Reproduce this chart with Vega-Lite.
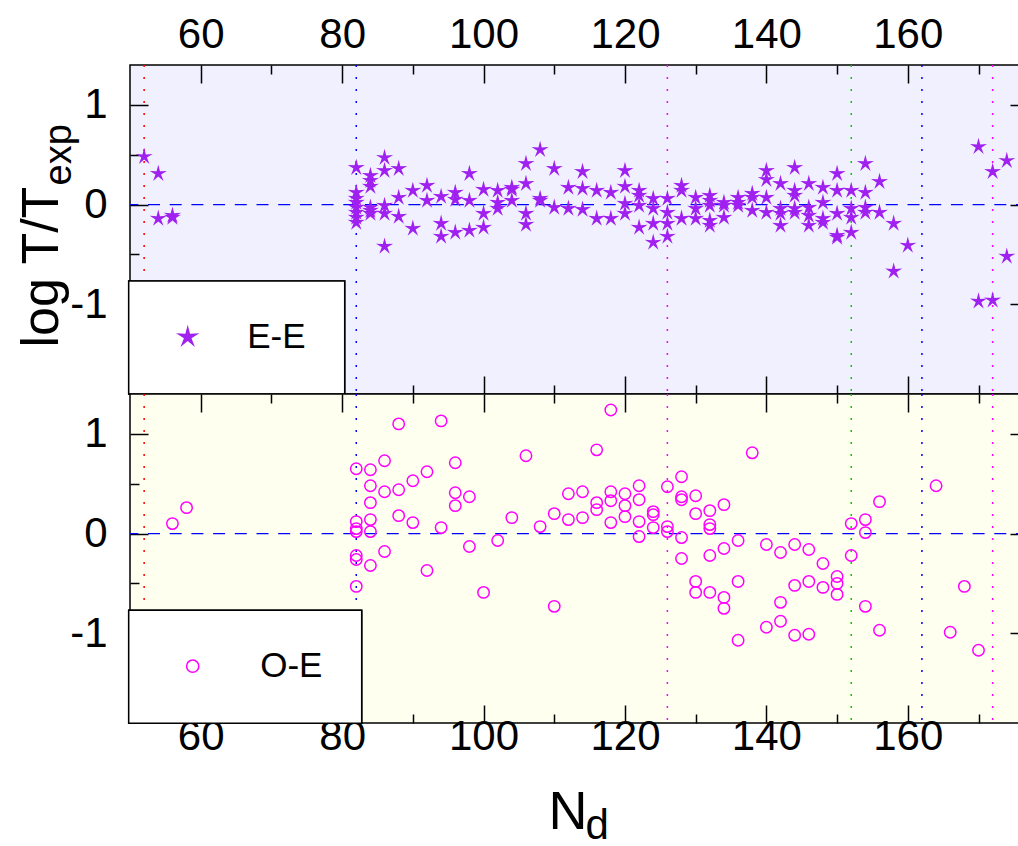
{
  "$schema": "https://vega.github.io/schema/vega-lite/v6.json",
  "padding": {"left": 14, "top": 3, "right": 0, "bottom": 0},
  "spacing": 0,
  "bounds": "flush",
  "config": {
    "font": "Liberation Sans",
    "axis": {"domain": false, "grid": false, "tickColor": "black", "tickWidth": 1.5, "labelFont": "Liberation Sans", "labelFontSize": 42, "labelColor": "black", "titleFont": "Liberation Sans", "titleFontWeight": "normal", "titleColor": "black", "labelFlush": false, "labelOverlap": false, "labelBound": false},
    "legend": {"strokeWidth": 1.5, "cornerRadius": 0}
  },
  "resolve": {"scale": {"shape": "independent", "color": "independent"}, "legend": {"shape": "independent", "color": "independent"}},
  "datasets": {
    "vlines": [{"N": 52}, {"N": 82}, {"N": 126}, {"N": 152}, {"N": 162}, {"N": 172}],
    "zero": [{"v": 0}],
    "ee": [
      {"N": 52, "v": 0.48, "type": "E-E"}, {"N": 54, "v": 0.31, "type": "E-E"}, {"N": 54, "v": -0.14, "type": "E-E"}, {"N": 56, "v": -0.11, "type": "E-E"}, {"N": 56, "v": -0.13, "type": "E-E"},
      {"N": 82, "v": 0.37, "type": "E-E"}, {"N": 82, "v": 0.12, "type": "E-E"}, {"N": 82, "v": 0.06, "type": "E-E"}, {"N": 82, "v": 0.02, "type": "E-E"}, {"N": 82, "v": -0.03, "type": "E-E"}, {"N": 82, "v": -0.08, "type": "E-E"}, {"N": 82, "v": -0.13, "type": "E-E"}, {"N": 82, "v": -0.18, "type": "E-E"},
      {"N": 84, "v": 0.29, "type": "E-E"}, {"N": 84, "v": 0.24, "type": "E-E"}, {"N": 84, "v": 0.18, "type": "E-E"}, {"N": 84, "v": -0.03, "type": "E-E"}, {"N": 84, "v": -0.06, "type": "E-E"}, {"N": 84, "v": -0.09, "type": "E-E"},
      {"N": 86, "v": 0.47, "type": "E-E"}, {"N": 86, "v": 0.34, "type": "E-E"}, {"N": 86, "v": -0.01, "type": "E-E"}, {"N": 86, "v": -0.09, "type": "E-E"}, {"N": 86, "v": -0.42, "type": "E-E"},
      {"N": 88, "v": 0.36, "type": "E-E"}, {"N": 88, "v": 0.07, "type": "E-E"}, {"N": 88, "v": -0.12, "type": "E-E"},
      {"N": 90, "v": 0.14, "type": "E-E"}, {"N": 90, "v": -0.24, "type": "E-E"},
      {"N": 92, "v": 0.19, "type": "E-E"}, {"N": 92, "v": 0.04, "type": "E-E"},
      {"N": 94, "v": 0.08, "type": "E-E"}, {"N": 94, "v": -0.19, "type": "E-E"}, {"N": 94, "v": -0.32, "type": "E-E"},
      {"N": 96, "v": 0.12, "type": "E-E"}, {"N": 96, "v": 0.05, "type": "E-E"}, {"N": 96, "v": -0.28, "type": "E-E"},
      {"N": 98, "v": 0.31, "type": "E-E"}, {"N": 98, "v": 0.04, "type": "E-E"}, {"N": 98, "v": -0.26, "type": "E-E"},
      {"N": 100, "v": 0.15, "type": "E-E"}, {"N": 100, "v": -0.09, "type": "E-E"}, {"N": 100, "v": -0.23, "type": "E-E"},
      {"N": 102, "v": 0.14, "type": "E-E"}, {"N": 102, "v": 0.02, "type": "E-E"}, {"N": 102, "v": -0.04, "type": "E-E"},
      {"N": 104, "v": 0.17, "type": "E-E"}, {"N": 104, "v": 0.15, "type": "E-E"}, {"N": 104, "v": 0.04, "type": "E-E"},
      {"N": 106, "v": 0.41, "type": "E-E"}, {"N": 106, "v": 0.21, "type": "E-E"}, {"N": 106, "v": -0.09, "type": "E-E"}, {"N": 106, "v": -0.2, "type": "E-E"},
      {"N": 108, "v": 0.55, "type": "E-E"}, {"N": 108, "v": 0.06, "type": "E-E"}, {"N": 108, "v": 0.04, "type": "E-E"},
      {"N": 110, "v": 0.36, "type": "E-E"}, {"N": 110, "v": -0.03, "type": "E-E"},
      {"N": 112, "v": 0.17, "type": "E-E"}, {"N": 112, "v": -0.04, "type": "E-E"},
      {"N": 114, "v": 0.33, "type": "E-E"}, {"N": 114, "v": 0.16, "type": "E-E"}, {"N": 114, "v": -0.05, "type": "E-E"},
      {"N": 116, "v": 0.14, "type": "E-E"}, {"N": 116, "v": -0.14, "type": "E-E"},
      {"N": 118, "v": 0.12, "type": "E-E"}, {"N": 118, "v": -0.14, "type": "E-E"},
      {"N": 120, "v": 0.34, "type": "E-E"}, {"N": 120, "v": 0.18, "type": "E-E"}, {"N": 120, "v": 0.01, "type": "E-E"}, {"N": 120, "v": -0.09, "type": "E-E"},
      {"N": 122, "v": 0.14, "type": "E-E"}, {"N": 122, "v": 0.09, "type": "E-E"}, {"N": 122, "v": -0.01, "type": "E-E"}, {"N": 122, "v": -0.23, "type": "E-E"},
      {"N": 124, "v": 0.06, "type": "E-E"}, {"N": 124, "v": -0.04, "type": "E-E"}, {"N": 124, "v": -0.19, "type": "E-E"}, {"N": 124, "v": -0.38, "type": "E-E"},
      {"N": 126, "v": 0.06, "type": "E-E"}, {"N": 126, "v": -0.08, "type": "E-E"}, {"N": 126, "v": -0.19, "type": "E-E"}, {"N": 126, "v": -0.32, "type": "E-E"},
      {"N": 128, "v": 0.19, "type": "E-E"}, {"N": 128, "v": 0.14, "type": "E-E"}, {"N": 128, "v": -0.14, "type": "E-E"},
      {"N": 130, "v": 0.07, "type": "E-E"}, {"N": 130, "v": -0.04, "type": "E-E"}, {"N": 130, "v": -0.14, "type": "E-E"},
      {"N": 132, "v": 0.09, "type": "E-E"}, {"N": 132, "v": 0.04, "type": "E-E"}, {"N": 132, "v": -0.01, "type": "E-E"}, {"N": 132, "v": -0.16, "type": "E-E"}, {"N": 132, "v": -0.21, "type": "E-E"},
      {"N": 134, "v": 0.02, "type": "E-E"}, {"N": 134, "v": -0.01, "type": "E-E"}, {"N": 134, "v": -0.13, "type": "E-E"},
      {"N": 136, "v": 0.07, "type": "E-E"}, {"N": 136, "v": 0.02, "type": "E-E"}, {"N": 136, "v": -0.01, "type": "E-E"},
      {"N": 138, "v": 0.11, "type": "E-E"}, {"N": 138, "v": 0.07, "type": "E-E"}, {"N": 138, "v": -0.06, "type": "E-E"},
      {"N": 140, "v": 0.34, "type": "E-E"}, {"N": 140, "v": 0.25, "type": "E-E"}, {"N": 140, "v": 0.07, "type": "E-E"}, {"N": 140, "v": -0.08, "type": "E-E"},
      {"N": 142, "v": 0.21, "type": "E-E"}, {"N": 142, "v": -0.04, "type": "E-E"}, {"N": 142, "v": -0.09, "type": "E-E"}, {"N": 142, "v": -0.21, "type": "E-E"},
      {"N": 144, "v": 0.37, "type": "E-E"}, {"N": 144, "v": 0.14, "type": "E-E"}, {"N": 144, "v": 0.09, "type": "E-E"}, {"N": 144, "v": -0.04, "type": "E-E"}, {"N": 144, "v": -0.08, "type": "E-E"},
      {"N": 146, "v": 0.21, "type": "E-E"}, {"N": 146, "v": -0.03, "type": "E-E"}, {"N": 146, "v": -0.11, "type": "E-E"}, {"N": 146, "v": -0.21, "type": "E-E"},
      {"N": 148, "v": 0.17, "type": "E-E"}, {"N": 148, "v": 0.02, "type": "E-E"}, {"N": 148, "v": -0.14, "type": "E-E"}, {"N": 148, "v": -0.18, "type": "E-E"},
      {"N": 150, "v": 0.31, "type": "E-E"}, {"N": 150, "v": 0.14, "type": "E-E"}, {"N": 150, "v": -0.09, "type": "E-E"}, {"N": 150, "v": -0.31, "type": "E-E"}, {"N": 150, "v": -0.33, "type": "E-E"},
      {"N": 152, "v": 0.14, "type": "E-E"}, {"N": 152, "v": -0.04, "type": "E-E"}, {"N": 152, "v": -0.13, "type": "E-E"}, {"N": 152, "v": -0.28, "type": "E-E"},
      {"N": 154, "v": 0.41, "type": "E-E"}, {"N": 154, "v": 0.12, "type": "E-E"}, {"N": 154, "v": -0.03, "type": "E-E"}, {"N": 154, "v": -0.08, "type": "E-E"},
      {"N": 156, "v": 0.23, "type": "E-E"}, {"N": 156, "v": -0.08, "type": "E-E"},
      {"N": 158, "v": -0.19, "type": "E-E"}, {"N": 158, "v": -0.67, "type": "E-E"},
      {"N": 160, "v": -0.41, "type": "E-E"},
      {"N": 170, "v": 0.58, "type": "E-E"}, {"N": 170, "v": -0.97, "type": "E-E"},
      {"N": 172, "v": 0.33, "type": "E-E"}, {"N": 172, "v": -0.96, "type": "E-E"},
      {"N": 174, "v": 0.44, "type": "E-E"}, {"N": 174, "v": -0.52, "type": "E-E"}
    ],
    "oe": [
      {"N": 56, "v": 0.10, "type": "O-E"}, {"N": 58, "v": 0.26, "type": "O-E"},
      {"N": 82, "v": 0.65, "type": "O-E"}, {"N": 82, "v": 0.12, "type": "O-E"}, {"N": 82, "v": 0.05, "type": "O-E"}, {"N": 82, "v": 0.02, "type": "O-E"}, {"N": 82, "v": -0.22, "type": "O-E"}, {"N": 82, "v": -0.26, "type": "O-E"}, {"N": 82, "v": -0.53, "type": "O-E"},
      {"N": 84, "v": 0.64, "type": "O-E"}, {"N": 84, "v": 0.48, "type": "O-E"}, {"N": 84, "v": 0.31, "type": "O-E"}, {"N": 84, "v": 0.14, "type": "O-E"}, {"N": 84, "v": 0.02, "type": "O-E"}, {"N": 84, "v": -0.32, "type": "O-E"},
      {"N": 86, "v": 0.73, "type": "O-E"}, {"N": 86, "v": 0.42, "type": "O-E"}, {"N": 86, "v": -0.18, "type": "O-E"},
      {"N": 88, "v": 1.10, "type": "O-E"}, {"N": 88, "v": 0.44, "type": "O-E"}, {"N": 88, "v": 0.18, "type": "O-E"},
      {"N": 90, "v": 0.53, "type": "O-E"}, {"N": 90, "v": 0.11, "type": "O-E"},
      {"N": 92, "v": 0.62, "type": "O-E"}, {"N": 92, "v": -0.37, "type": "O-E"},
      {"N": 94, "v": 1.13, "type": "O-E"}, {"N": 94, "v": 0.06, "type": "O-E"},
      {"N": 96, "v": 0.71, "type": "O-E"}, {"N": 96, "v": 0.41, "type": "O-E"}, {"N": 96, "v": 0.28, "type": "O-E"},
      {"N": 98, "v": 0.37, "type": "O-E"}, {"N": 98, "v": -0.13, "type": "O-E"},
      {"N": 100, "v": -0.59, "type": "O-E"},
      {"N": 102, "v": -0.07, "type": "O-E"},
      {"N": 104, "v": 0.16, "type": "O-E"},
      {"N": 106, "v": 0.78, "type": "O-E"},
      {"N": 108, "v": 0.07, "type": "O-E"},
      {"N": 110, "v": 0.20, "type": "O-E"}, {"N": 110, "v": -0.73, "type": "O-E"},
      {"N": 112, "v": 0.40, "type": "O-E"}, {"N": 112, "v": 0.14, "type": "O-E"},
      {"N": 114, "v": 0.42, "type": "O-E"}, {"N": 114, "v": 0.16, "type": "O-E"},
      {"N": 116, "v": 0.84, "type": "O-E"}, {"N": 116, "v": 0.31, "type": "O-E"}, {"N": 116, "v": 0.24, "type": "O-E"},
      {"N": 118, "v": 1.24, "type": "O-E"}, {"N": 118, "v": 0.42, "type": "O-E"}, {"N": 118, "v": 0.33, "type": "O-E"}, {"N": 118, "v": 0.11, "type": "O-E"},
      {"N": 120, "v": 0.40, "type": "O-E"}, {"N": 120, "v": 0.28, "type": "O-E"}, {"N": 120, "v": 0.17, "type": "O-E"},
      {"N": 122, "v": 0.48, "type": "O-E"}, {"N": 122, "v": 0.34, "type": "O-E"}, {"N": 122, "v": 0.12, "type": "O-E"}, {"N": 122, "v": -0.03, "type": "O-E"},
      {"N": 124, "v": 0.22, "type": "O-E"}, {"N": 124, "v": 0.19, "type": "O-E"}, {"N": 124, "v": 0.06, "type": "O-E"},
      {"N": 126, "v": 0.47, "type": "O-E"}, {"N": 126, "v": 0.07, "type": "O-E"}, {"N": 126, "v": 0.02, "type": "O-E"},
      {"N": 128, "v": 0.57, "type": "O-E"}, {"N": 128, "v": 0.37, "type": "O-E"}, {"N": 128, "v": 0.34, "type": "O-E"}, {"N": 128, "v": -0.04, "type": "O-E"}, {"N": 128, "v": -0.25, "type": "O-E"},
      {"N": 130, "v": 0.38, "type": "O-E"}, {"N": 130, "v": 0.20, "type": "O-E"}, {"N": 130, "v": -0.48, "type": "O-E"}, {"N": 130, "v": -0.59, "type": "O-E"},
      {"N": 132, "v": 0.23, "type": "O-E"}, {"N": 132, "v": 0.09, "type": "O-E"}, {"N": 132, "v": 0.05, "type": "O-E"}, {"N": 132, "v": -0.22, "type": "O-E"}, {"N": 132, "v": -0.59, "type": "O-E"},
      {"N": 134, "v": 0.29, "type": "O-E"}, {"N": 134, "v": -0.15, "type": "O-E"}, {"N": 134, "v": -0.64, "type": "O-E"}, {"N": 134, "v": -0.75, "type": "O-E"},
      {"N": 136, "v": -0.07, "type": "O-E"}, {"N": 136, "v": -0.48, "type": "O-E"}, {"N": 136, "v": -1.07, "type": "O-E"},
      {"N": 138, "v": 0.81, "type": "O-E"},
      {"N": 140, "v": -0.11, "type": "O-E"}, {"N": 140, "v": -0.94, "type": "O-E"},
      {"N": 142, "v": -0.19, "type": "O-E"}, {"N": 142, "v": -0.69, "type": "O-E"}, {"N": 142, "v": -0.88, "type": "O-E"},
      {"N": 144, "v": -0.11, "type": "O-E"}, {"N": 144, "v": -0.52, "type": "O-E"}, {"N": 144, "v": -1.02, "type": "O-E"},
      {"N": 146, "v": -0.16, "type": "O-E"}, {"N": 146, "v": -0.48, "type": "O-E"}, {"N": 146, "v": -1.01, "type": "O-E"},
      {"N": 148, "v": -0.30, "type": "O-E"}, {"N": 148, "v": -0.54, "type": "O-E"},
      {"N": 150, "v": -0.43, "type": "O-E"}, {"N": 150, "v": -0.50, "type": "O-E"}, {"N": 150, "v": -0.61, "type": "O-E"},
      {"N": 152, "v": 0.10, "type": "O-E"}, {"N": 152, "v": -0.22, "type": "O-E"},
      {"N": 154, "v": 0.14, "type": "O-E"}, {"N": 154, "v": 0.01, "type": "O-E"}, {"N": 154, "v": -0.73, "type": "O-E"},
      {"N": 156, "v": 0.32, "type": "O-E"}, {"N": 156, "v": -0.97, "type": "O-E"},
      {"N": 164, "v": 0.48, "type": "O-E"},
      {"N": 166, "v": -0.99, "type": "O-E"},
      {"N": 168, "v": -0.53, "type": "O-E"},
      {"N": 170, "v": -1.17, "type": "O-E"}
    ]
  },
  "vconcat": [
    {
      "width": 898,
      "height": 329,
      "view": {"fill": "#f0f0ff", "stroke": "black", "strokeWidth": 1.5},
      "layer": [
        {
          "data": {"name": "vlines"},
          "mark": {"type": "rule", "strokeDash": [2, 10], "strokeWidth": 1.5},
          "encoding": {
            "x": {"field": "N", "type": "quantitative", "scale": {"domain": [50, 177], "nice": false, "zero": false},
              "axis": {"orient": "top", "values": [60, 70, 80, 90, 100, 110, 120, 130, 140, 150, 160, 170], "labelExpr": "datum.value % 20 === 0 ? '' + datum.value : ''", "tickSize": {"condition": {"test": "datum.value % 20 === 0", "value": -18}, "value": -9}, "labelPadding": 36, "labelBaseline": "alphabetic", "title": null}},
            "color": {"field": "N", "type": "nominal", "scale": {"domain": [52, 82, 126, 152, 162, 172], "range": ["#ff0000", "#0000ff", "#ff00ff", "#00cc00", "#0000ff", "#ff00ff"]}, "legend": null}
          }
        },
        {
          "data": {"name": "zero"},
          "mark": {"type": "rule", "color": "#0000ff", "strokeDash": [12, 9.7], "strokeWidth": 1.2},
          "encoding": {
            "y": {"field": "v", "type": "quantitative", "scale": {"domain": [-1.9, 1.4], "nice": false, "zero": false},
              "axis": {"orient": "right", "values": [-1.5, -1, -0.5, 0, 0.5, 1], "labels": false, "tickSize": {"condition": {"test": "datum.value % 1 === 0", "value": -18}, "value": -9}, "title": "exp", "titleFontSize": 38, "titleAngle": -90, "titleAlign": "left", "titleBaseline": "alphabetic", "titleX": -958, "titleY": 120}}
          }
        },
        {
          "data": {"name": "ee"},
          "mark": {"type": "point", "filled": true, "size": 320, "opacity": 1},
          "encoding": {
            "x": {"field": "N", "type": "quantitative", "scale": {"domain": [50, 177], "nice": false, "zero": false},
              "axis": {"orient": "bottom", "values": [60, 70, 80, 90, 100, 110, 120, 130, 140, 150, 160, 170], "labels": false, "tickSize": {"condition": {"test": "datum.value % 20 === 0", "value": -18}, "value": -9}, "title": null}},
            "y": {"field": "v", "type": "quantitative", "scale": {"domain": [-1.9, 1.4], "nice": false, "zero": false},
              "axis": {"orient": "left", "values": [-1.5, -1, -0.5, 0, 0.5, 1], "labelExpr": "datum.value % 1 === 0 ? '' + datum.value : ''", "tickSize": {"condition": {"test": "datum.value % 1 === 0", "value": -18}, "value": -9}, "labelPadding": 41, "title": "log T/T", "titleFontSize": 52, "titleAngle": -90, "titleAlign": "left", "titleBaseline": "alphabetic", "titleX": -73, "titleY": 282}},
            "shape": {"field": "type", "type": "nominal", "scale": {"domain": ["E-E"], "range": ["M0,-1L0.19,-0.26L0.951,-0.309L0.31,0.1L0.588,0.809L0,0.32L-0.588,0.809L-0.31,0.1L-0.951,-0.309L-0.19,-0.26Z"]},
              "legend": {"orient": "none", "legendX": -1.3, "legendY": 216, "title": null, "fillColor": "white", "strokeColor": "black", "padding": 38.5, "labelFontSize": 35, "labelFont": "Liberation Sans", "labelColor": "black", "symbolSize": 600, "symbolType": "M0,-1L0.19,-0.26L0.951,-0.309L0.31,0.1L0.588,0.809L0,0.32L-0.588,0.809L-0.31,0.1L-0.951,-0.309L-0.19,-0.26Z", "symbolOffset": 3, "labelOffset": 42, "labelExpr": "datum.label + '\u2003'"}},
            "color": {"field": "type", "type": "nominal", "scale": {"domain": ["E-E"], "range": ["#a020f0"]},
              "legend": {"orient": "none", "legendX": -1.3, "legendY": 216, "title": null, "fillColor": "white", "strokeColor": "black", "padding": 38.5, "labelFontSize": 35, "labelFont": "Liberation Sans", "labelColor": "black", "symbolSize": 600, "symbolType": "M0,-1L0.19,-0.26L0.951,-0.309L0.31,0.1L0.588,0.809L0,0.32L-0.588,0.809L-0.31,0.1L-0.951,-0.309L-0.19,-0.26Z", "symbolOffset": 3, "labelOffset": 42, "labelExpr": "datum.label + '\u2003'"}}
          }
        }
      ],
      "resolve": {"axis": {"x": "independent", "y": "independent"}, "scale": {"color": "independent"}}
    },
    {
      "width": 898,
      "height": 329,
      "view": {"fill": "#fffff0", "stroke": "black", "strokeWidth": 1.5},
      "layer": [
        {
          "data": {"name": "vlines"},
          "mark": {"type": "rule", "strokeDash": [2, 10], "strokeWidth": 1.5},
          "encoding": {
            "x": {"field": "N", "type": "quantitative", "scale": {"domain": [50, 177], "nice": false, "zero": false},
              "axis": {"orient": "top", "values": [60, 70, 80, 90, 100, 110, 120, 130, 140, 150, 160, 170], "labels": false, "tickSize": {"condition": {"test": "datum.value % 20 === 0", "value": -18}, "value": -9}, "title": "d", "titleFontSize": 42, "titleAngle": 0, "titleAlign": "left", "titleBaseline": "alphabetic", "titleX": 455, "titleY": 444}},
            "color": {"field": "N", "type": "nominal", "scale": {"domain": [52, 82, 126, 152, 162, 172], "range": ["#ff0000", "#0000ff", "#ff00ff", "#00cc00", "#0000ff", "#ff00ff"]}, "legend": null}
          }
        },
        {
          "data": {"name": "zero"},
          "mark": {"type": "rule", "color": "#0000ff", "strokeDash": [12, 9.7], "strokeWidth": 1.2},
          "encoding": {
            "y": {"field": "v", "type": "quantitative", "scale": {"domain": [-1.9, 1.4], "nice": false, "zero": false},
              "axis": {"orient": "right", "values": [-1.5, -1, -0.5, 0, 0.5, 1], "labels": false, "tickSize": {"condition": {"test": "datum.value % 1 === 0", "value": -18}, "value": -9}, "title": null}}
          }
        },
        {
          "data": {"name": "oe"},
          "mark": {"type": "point", "filled": false, "size": 130, "strokeWidth": 1.5, "opacity": 1},
          "encoding": {
            "x": {"field": "N", "type": "quantitative", "scale": {"domain": [50, 177], "nice": false, "zero": false},
              "axis": {"orient": "bottom", "values": [60, 70, 80, 90, 100, 110, 120, 130, 140, 150, 160, 170], "labelExpr": "datum.value % 20 === 0 ? '' + datum.value : ''", "tickSize": {"condition": {"test": "datum.value % 20 === 0", "value": -18}, "value": -9}, "labelPadding": 44, "labelBaseline": "alphabetic", "title": "N", "titleFontSize": 54, "titleAngle": 0, "titleAlign": "left", "titleBaseline": "alphabetic", "titleX": 418, "titleY": 105}},
            "y": {"field": "v", "type": "quantitative", "scale": {"domain": [-1.9, 1.4], "nice": false, "zero": false},
              "axis": {"orient": "left", "values": [-1.5, -1, -0.5, 0, 0.5, 1], "labelExpr": "datum.value % 1 === 0 ? '' + datum.value : ''", "tickSize": {"condition": {"test": "datum.value % 1 === 0", "value": -18}, "value": -9}, "labelPadding": 41, "title": null}},
            "shape": {"field": "type", "type": "nominal", "scale": {"domain": ["O-E"], "range": ["circle"]},
              "legend": {"orient": "none", "legendX": -1.3, "legendY": 216.2, "title": null, "fillColor": "white", "strokeColor": "black", "padding": 38.5, "labelFontSize": 35, "labelFont": "Liberation Sans", "labelColor": "black", "symbolSize": 150, "symbolType": "circle", "symbolStrokeWidth": 1.5, "symbolOffset": 8, "labelOffset": 50, "labelExpr": "datum.label + '\u2002\u2009'"}},
            "color": {"field": "type", "type": "nominal", "scale": {"domain": ["O-E"], "range": ["#ff00ff"]},
              "legend": {"orient": "none", "legendX": -1.3, "legendY": 216.2, "title": null, "fillColor": "white", "strokeColor": "black", "padding": 38.5, "labelFontSize": 35, "labelFont": "Liberation Sans", "labelColor": "black", "symbolSize": 150, "symbolType": "circle", "symbolStrokeWidth": 1.5, "symbolOffset": 8, "labelOffset": 50, "labelExpr": "datum.label + '\u2002\u2009'"}}
          }
        }
      ],
      "resolve": {"axis": {"x": "independent", "y": "independent"}, "scale": {"color": "independent"}}
    }
  ]
}
